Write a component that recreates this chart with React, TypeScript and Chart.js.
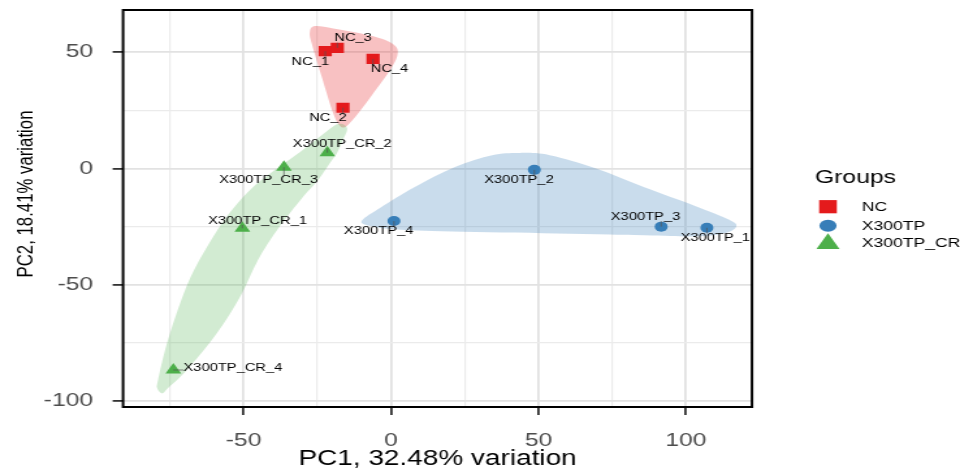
import React, { useEffect, useRef } from 'react';
import { Chart, registerables } from 'chart.js';

Chart.register(...registerables);

// ---- data (PC1 / PC2 scores) ----
const groupNames = ['NC', 'X300TP', 'X300TP_CR'];

const ncLabels = ['NC_1', 'NC_2', 'NC_3', 'NC_4'];
const ncPC1 = [-22.3, -16.3, -18.2, -6.1];
const ncPC2 = [50.4, 26.1, 51.8, 47.1];

const tpLabels = ['X300TP_1', 'X300TP_2', 'X300TP_3', 'X300TP_4'];
const tpPC1 = [107.1, 48.6, 91.6, 1.0];
const tpPC2 = [-25.5, -0.6, -25.0, -22.6];

const crLabels = ['X300TP_CR_1', 'X300TP_CR_2', 'X300TP_CR_3', 'X300TP_CR_4'];
const crPC1 = [-50.4, -21.6, -36.3, -73.8];
const crPC2 = [-25.7, 6.8, 0.5, -86.6];

// encircle outlines (data units)
const ncHullPC1 = [-25.8, -19.6, -10.5, -2.6, 1.7, 2.1, -0.3, -6.0, -11.1, -15.0, -17.3, -19.6, -23.5, -26.9, -27.5];
const ncHullPC2 = [61.2, 60.2, 58.1, 55.5, 52.3, 48.3, 42.3, 32.3, 23.7, 18.3, 18.3, 23.7, 39.4, 53.8, 58.8];

const tpHullPC1 = [-9.8, -3.5, 7.9, 21.7, 34.3, 43.5, 53.8, 69.8, 85.9, 103.1, 114.5, 117.1, 113.4, 103.1, 85.9, 51.5, 17.1, -0.1, -8.1];
const tpHullPC2 = [-22.3, -16.8, -8.1, 0.6, 5.7, 6.7, 5.7, -0.1, -8.1, -16.1, -21.9, -24.8, -27.7, -29.2, -28.7, -27.8, -27.0, -26.0, -24.4];

const crHullPC1 = [-14.9, -16.3, -18.3, -20.7, -24.7, -29.8, -38.6, -45.1, -51.2, -59.0, -69.2, -75.6, -77.6, -79.3, -79.0, -76.6, -72.9, -68.1, -62.0, -55.3, -47.8, -39.3, -30.8, -23.4, -18.0];
const crHullPC2 = [17.4, 12.2, 6.7, 2.4, -4.9, -12.2, -26.4, -39.3, -55.2, -70.7, -86.6, -94.3, -96.6, -94.3, -91.0, -78.0, -63.0, -47.1, -32.9, -20.0, -9.2, -0.6, 7.1, 14.4, 19.1];

const xTitle = 'PC1, 32.48% variation';
const yTitle = 'PC2, 18.41% variation';
const legendTitle = 'Groups';

// ---- layout / style (not data) ----
const CANVAS_W = 738;
const CANVAS_H = 470;
const FONT = "'Liberation Sans', Arial, sans-serif";
const COLORS = ['#E41A1C', '#377EB8', '#4DAF4A'];
const HULL_FILL = ['rgba(228,26,28,0.27)', 'rgba(55,126,184,0.27)', 'rgba(77,175,74,0.25)'];
const POINT_STYLES = ['rect', 'circle', 'triangle'];
const POINT_RADII = [7.2, 5, 7];
// label centre offsets in canvas px (dx, dy) per sample, same order as label arrays
const ncLabelOffsets = [[-11.5, 10.5], [-11.5, 10.5], [12.1, -9.7], [12.7, 9.7]];
const tpLabelOffsets = [[6.5, 10.2], [-11.8, 10.1], [-12, -9.8], [-11.8, 10.3]];
const crLabelOffsets = [[11.7, -7.8], [11.5, -8.9], [-11.8, 12.7], [45.8, -1.7]];

const groups = [
  { labels: ncLabels, pc1: ncPC1, pc2: ncPC2, hx: ncHullPC1, hy: ncHullPC2, offs: ncLabelOffsets },
  { labels: tpLabels, pc1: tpPC1, pc2: tpPC2, hx: tpHullPC1, hy: tpHullPC2, offs: tpLabelOffsets },
  { labels: crLabels, pc1: crPC1, pc2: crPC2, hx: crHullPC1, hy: crHullPC2, offs: crLabelOffsets },
];

function closedSpline(ctx: CanvasRenderingContext2D, pts: { x: number; y: number }[]) {
  const n = pts.length;
  ctx.beginPath();
  ctx.moveTo(pts[0].x, pts[0].y);
  const t = 1 / 6;
  for (let i = 0; i < n; i++) {
    const p0 = pts[(i - 1 + n) % n];
    const p1 = pts[i];
    const p2 = pts[(i + 1) % n];
    const p3 = pts[(i + 2) % n];
    ctx.bezierCurveTo(
      p1.x + (p2.x - p0.x) * t, p1.y + (p2.y - p0.y) * t,
      p2.x - (p3.x - p1.x) * t, p2.y - (p3.y - p1.y) * t,
      p2.x, p2.y
    );
  }
  ctx.closePath();
}

const pcaPlugin = {
  id: 'pcaDecor',
  beforeDatasetsDraw(chart: any) {
    const { ctx, scales } = chart;
    const xs = scales.x;
    const ys = scales.y;
    ctx.save();
    groups.forEach((g, i) => {
      const pts = g.hx.map((v, k) => ({ x: xs.getPixelForValue(v), y: ys.getPixelForValue(g.hy[k]) }));
      closedSpline(ctx, pts);
      ctx.fillStyle = HULL_FILL[i];
      ctx.fill();
    });
    ctx.restore();
  },
  afterDatasetsDraw(chart: any) {
    const { ctx, scales, chartArea } = chart;
    const xs = scales.x;
    const ys = scales.y;
    ctx.save();
    ctx.font = `11.3px ${FONT}`;
    ctx.textAlign = 'center';
    ctx.textBaseline = 'middle';
    groups.forEach((g) => {
      g.labels.forEach((lab, k) => {
        const px = xs.getPixelForValue(g.pc1[k]);
        const py = ys.getPixelForValue(g.pc2[k]);
        const cx = px + g.offs[k][0];
        const cy = py + g.offs[k][1];
        const w = ctx.measureText(lab).width;
        const h = 9;
        const bx = Math.max(cx - w / 2, Math.min(px, cx + w / 2));
        const by = Math.max(cy - h / 2, Math.min(py, cy + h / 2));
        ctx.strokeStyle = '#555555';
        ctx.lineWidth = 0.7;
        ctx.beginPath();
        ctx.moveTo(px, py);
        ctx.lineTo(bx, by);
        ctx.stroke();
        ctx.fillStyle = '#000000';
        ctx.fillText(lab, cx, cy);
      });
    });
    // panel border
    ctx.strokeStyle = '#000000';
    ctx.lineWidth = 2;
    ctx.strokeRect(chartArea.left, chartArea.top, chartArea.right - chartArea.left, chartArea.bottom - chartArea.top);
    ctx.restore();
  },
  afterDraw(chart: any) {
    const { ctx, chartArea } = chart;
    ctx.save();
    // axis titles
    ctx.fillStyle = '#000000';
    ctx.font = `21.5px ${FONT}`;
    ctx.textAlign = 'center';
    ctx.textBaseline = 'alphabetic';
    ctx.fillText(xTitle, (chartArea.left + chartArea.right) / 2, 465);
    ctx.save();
    ctx.translate(24.5, 194);
    ctx.rotate(-Math.PI / 2);
    ctx.font = `16.8px ${FONT}`;
    ctx.fillText(yTitle, 0, 0);
    ctx.restore();
    // legend
    ctx.textAlign = 'left';
    ctx.font = `19px ${FONT}`;
    ctx.fillStyle = '#000000';
    ctx.fillText(legendTitle, 626.5, 183.3);
    const sx = 636.5;
    const rowY = [206.7, 225.8, 242.5];
    // square
    ctx.fillStyle = COLORS[0];
    ctx.fillRect(sx - 6.8, rowY[0] - 6.6, 13.6, 13.2);
    // circle
    ctx.fillStyle = COLORS[1];
    ctx.beginPath();
    ctx.ellipse(sx, rowY[1], 6.6, 6, 0, 0, Math.PI * 2);
    ctx.fill();
    // triangle
    ctx.fillStyle = COLORS[2];
    ctx.beginPath();
    ctx.moveTo(sx, 233.3);
    ctx.lineTo(sx + 8.9, 249);
    ctx.lineTo(sx - 8.9, 249);
    ctx.closePath();
    ctx.fill();
    ctx.font = `13.5px ${FONT}`;
    ctx.fillStyle = '#000000';
    ctx.textBaseline = 'middle';
    groupNames.forEach((name, i) => {
      ctx.fillText(name, 662.4, rowY[i] + 0.6);
    });
    ctx.restore();
  },
};

const isMajor = (v: number) => Math.abs(v % 50) < 1e-9;

export default function App() {
  const canvasRef = useRef<HTMLCanvasElement | null>(null);

  useEffect(() => {
    document.body.style.margin = '0';
    const canvas = canvasRef.current;
    if (!canvas) return;
    const gridColor = (c: any) => (c.tick && isMajor(c.tick.value) ? '#E2E2E2' : '#EBEBEB');
    const gridWidth = (c: any) => (c.tick && isMajor(c.tick.value) ? 1.8 : 1.2);
    const tickColor = (c: any) => (c.tick && isMajor(c.tick.value) ? '#333333' : 'rgba(0,0,0,0)');
    const tickFont = { family: FONT, size: 19 };

    const chart = new Chart(canvas, {
      type: 'scatter',
      data: {
        datasets: groups.map((g, i) => ({
          label: groupNames[i],
          data: g.pc1.map((v, k) => ({ x: v, y: g.pc2[k] })),
          pointStyle: POINT_STYLES[i] as any,
          pointRadius: POINT_RADII[i],
          pointBackgroundColor: COLORS[i],
          pointBorderColor: COLORS[i],
          pointBorderWidth: 0,
          showLine: false,
        })),
      },
      options: {
        animation: false,
        responsive: false,
        devicePixelRatio: 1,
        events: [],
        layout: { padding: { left: 0, right: 159.9, top: 10, bottom: 0 } },
        plugins: {
          legend: { display: false },
          tooltip: { enabled: false },
          title: { display: false },
        },
        scales: {
          x: {
            type: 'linear',
            min: -90.85,
            max: 122.4,
            afterFit: (s: any) => { s.height = 63; s.paddingLeft = 0; s.paddingRight = 0; },
            border: { display: false },
            grid: {
              color: gridColor,
              lineWidth: gridWidth,
              tickColor: tickColor,
              tickWidth: 1.8,
              tickLength: 8,
              drawTicks: true,
            },
            ticks: {
              stepSize: 25,
              includeBounds: false,
              autoSkip: false,
              maxRotation: 0,
              padding: 14.5,
              color: '#4D4D4D',
              font: tickFont,
              callback: (v: any) => (isMajor(Number(v)) ? String(v) : ''),
            },
          },
          y: {
            type: 'linear',
            min: -102.5,
            max: 68.1,
            afterFit: (s: any) => { s.width = 94.6; s.paddingTop = 0; s.paddingBottom = 0; },
            border: { display: false },
            grid: {
              color: gridColor,
              lineWidth: gridWidth,
              tickColor: tickColor,
              tickWidth: 1.8,
              tickLength: 8,
              drawTicks: true,
            },
            ticks: {
              stepSize: 25,
              includeBounds: false,
              autoSkip: false,
              padding: 15,
              color: '#4D4D4D',
              font: tickFont,
              callback: (v: any) => (isMajor(Number(v)) ? String(v) : ''),
            },
          },
        },
      } as any,
      plugins: [pcaPlugin],
    });
    return () => chart.destroy();
  }, []);

  return (
    <div>
      <canvas
        ref={canvasRef}
        width={CANVAS_W}
        height={CANVAS_H}
        style={{ display: 'block', width: '960px', height: '470px' }}
      />
    </div>
  );
}
